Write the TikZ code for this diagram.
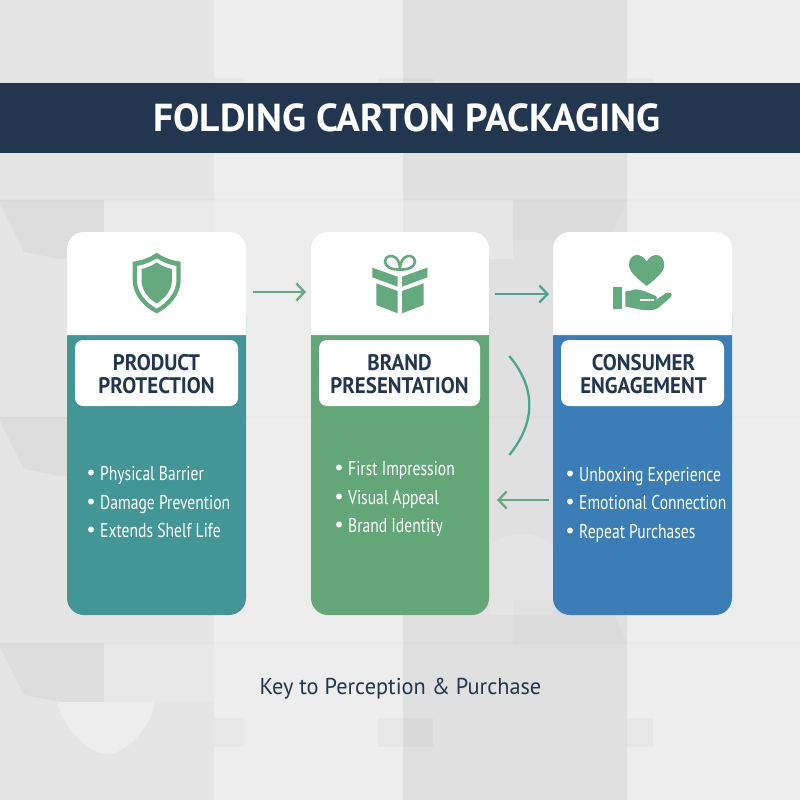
\documentclass[tikz,border=0pt]{standalone}
\usepackage{fontspec}
\setmainfont{PT Sans}
\usetikzlibrary{arrows.meta}
\newfontfamily\titlefont[FakeStretch=1.01]{PT Sans}
\newfontfamily\labelfont[FakeStretch=0.93]{PT Sans}
\newfontfamily\itemfont[FakeStretch=0.78]{PT Sans}
\newfontfamily\footfont[FakeStretch=0.97]{PT Sans}
\definecolor{navy}{HTML}{22374F}
\definecolor{teal1}{HTML}{439696}
\definecolor{green1}{HTML}{63A678}
\definecolor{blue1}{HTML}{3A7DB7}
\definecolor{icon}{HTML}{65A97E}
\definecolor{flowa}{HTML}{64A982}
\definecolor{flowb}{HTML}{4EA58F}
\tikzset{
  band/.style={fill=#1,draw=none},
  shade1/.style={fill=black,fill opacity=#1,draw=none},
  labelbox/.style={fill=white,draw=none,rounded corners=8pt,minimum height=66pt,inner sep=0pt,
    align=center,text=navy,font=\labelfont\fontsize{22.5}{23}\selectfont\bfseries},
  itemtext/.style={anchor=base west,inner sep=0pt,text=white,font=\itemfont\fontsize{20}{22}\selectfont},
  dotmark/.style={circle,fill=white,draw=none,minimum size=6pt,inner sep=0pt},
  flow/.style={line width=2.3pt,draw=#1,-{Straight Barb[length=8pt,width=17pt,line width=2.3pt]}},
}
\begin{document}
\begin{tikzpicture}[x=1pt,y=-1pt]
\useasboundingbox (0,0) rectangle (800,800);
% background
\fill[band=black!7] (0,0) rectangle (800,800);
\fill[band=black!10] (0,0) rectangle (214,800);
\fill[band=black!12] (403,0) rectangle (627,800);
\foreach \y in {200,417,643}{
  \fill[shade1=0.03] (0,\y) -- (104,\y) -- (104,\y+59) -- (60,\y+59) -- (24,\y+52) -- (0,\y+4) -- cycle;
  \fill[shade1=0.012] (0,\y-1.5) rectangle (800,\y+1.5);
}
\fill[white,fill opacity=0.2] (104,200) rectangle (214,259);
\fill[white,fill opacity=0.2] (403,200) rectangle (513,259);
\fill[white,fill opacity=0.12] (104,643) rectangle (214,702);
\fill[shade1=0.015] (513,600) -- (513,643) -- (627,643) -- (615,617) -- (603,600) -- cycle;
\fill[shade1=0.015] (513,200) -- (513,240) -- (610,240) -- (627,200) -- cycle;
\fill[black!7] (57,702) -- (155,702) .. controls (150,730) and (125,754) .. (107,754) .. controls (89,754) and (64,730) .. (57,702) -- cycle;
\fill[white,fill opacity=0.15] (490,545) .. controls (510,530) and (535,530) .. (553,545) -- (553,615) -- (490,615) -- cycle;
\foreach \a/\b in {214/244,378/433,627/653}{
  \fill[shade1=0.025] (\a,718) rectangle (\b,747);
  \fill[shade1=0.025] (\a,78) rectangle (\b,84);
}
% title bar
\node[fill=navy,minimum width=800pt,minimum height=70pt,inner sep=0pt,text=white,
  font=\titlefont\fontsize{39}{42}\selectfont\bfseries] (title) at (400,118) {\hspace*{14pt}FOLDING CARTON PACKAGING};
% cards
\foreach \n/\l/\r/\c in {1/67/246/teal1,2/311/489/green1,3/553/732/blue1}{
  \fill[\c,rounded corners=17pt] (\l,300) -- (\l,615) -- (\r,615) -- (\r,300) -- cycle;
  \fill[white,rounded corners=17pt] (\l,335) -- (\l,232) -- (\r,232) -- (\r,335);
  \fill[white] (\l,315) rectangle (\r,335);
}
% label boxes
\node[labelbox,minimum width=163pt] (l1) at (156.5,373) {\rule{0pt}{19pt}PRODUCT\\PROTECTION};
\node[labelbox,minimum width=161pt] (l2) at (399.5,373) {\rule{0pt}{19pt}BRAND\\PRESENTATION};
\node[labelbox,minimum width=163pt] (l3) at (642.5,373) {\rule{0pt}{19pt}\hspace*{2pt}CONSUMER\\\hspace*{2pt}ENGAGEMENT};
% bullets
\foreach \n/\x/\t/\y in {a/100/Physical Barrier/480,b/100/Damage Prevention/509,c/100/Extends Shelf Life/537,
   d/348/First Impression/475,e/348/Visual Appeal/504,f/348/Brand Identity/532,
   g/579/Unboxing Experience/481,h/579/Emotional Connection/509,i/579/Repeat Purchases/538}{
  \node[itemtext] (t\n) at (\x,\y) {\t};
  \node[dotmark] (d\n) at (\x-9,\y-7.5) {};
}
% shield
\fill[icon] (156.7,252.7) .. controls (150,257.5) and (142,260.5) .. (132.7,261.7) -- (132.7,280)
  .. controls (132.7,295) and (144,307) .. (156.7,313.5) .. controls (169.4,307) and (180.7,295) .. (180.7,280) -- (180.7,261.7)
  .. controls (171.4,260.5) and (163.4,257.5) .. (156.7,252.7) -- cycle;
\fill[white] (156.7,258.5) .. controls (151,262) and (144,265) .. (137,266) -- (137,280)
  .. controls (137,292) and (146,302.5) .. (156.7,308.5) .. controls (167.4,302.5) and (176.4,292) .. (176.4,280) -- (176.4,266)
  .. controls (169.4,265) and (162.4,262) .. (156.7,258.5) -- cycle;
\fill[icon] (156.7,262.5) .. controls (152,265.5) and (147,268) .. (141.5,269) -- (141.5,280)
  .. controls (141.5,290) and (148,298) .. (156.7,303.5) .. controls (165.4,298) and (171.9,290) .. (171.9,280) -- (171.9,269)
  .. controls (166.4,268) and (161.4,265.5) .. (156.7,262.5) -- cycle;
% gift
\fill[icon] (372.3,267.7) -- (397.7,276.7) -- (397.7,286.7) -- (372.3,277.3) -- cycle;
\fill[icon] (402,276.7) -- (427.3,267.7) -- (427.3,277.3) -- (402,286.7) -- cycle;
\fill[icon] (376.3,283.3) -- (397.7,291) -- (397.7,313.3) -- (376.3,305) -- cycle;
\fill[icon] (402,291) -- (423.7,283.3) -- (423.7,305) -- (402,313.3) -- cycle;
\draw[icon,line width=2.6pt] (400,269.5) .. controls (392,270) and (385,267) .. (385,261.5) .. controls (385,256) and (392,254) .. (396,258) .. controls (399,261) and (400,265) .. (400,269.5)
  .. controls (408,270) and (415,267) .. (415,261.5) .. controls (415,256) and (408,254) .. (404,258) .. controls (401,261) and (400,265) .. (400,269.5);
% heart and hand
\fill[icon] (646.7,261.5) .. controls (644,256.5) and (639,254.8) .. (636,255) .. controls (631.5,255.5) and (629,260) .. (629,265) .. controls (629,272) and (638,279) .. (646.7,286)
  .. controls (655.4,279) and (664.3,272) .. (664.3,265) .. controls (664.3,260) and (661.5,255.5) .. (657,255) .. controls (654,254.8) and (649.4,256.5) .. (646.7,261.5) -- cycle;
\fill[icon] (613.3,287.3) rectangle (622,309.3);
\fill[icon] (625.3,291.5) -- (631,290.5) .. controls (638,287.5) and (643,291) .. (654,295) .. controls (658,296.5) and (657.5,299) .. (655,300) -- (640,300) -- (655,300.5) -- (666,293.2) .. controls (670,291) and (673,294) .. (671,297)
  -- (658,308) .. controls (654,311) and (645,310.5) .. (640,309.5) -- (625.3,306.5) -- cycle;
\draw[white,line width=1.3pt] (640,300) -- (654,300);
% connectors
\coordinate (a1) at (253,292); \coordinate (a2) at (306,292);
\coordinate (b1) at (495,294); \coordinate (b2) at (549,294);
\coordinate (c1) at (509.3,356); \coordinate (c2) at (509.3,455);
\coordinate (e1) at (549,500); \coordinate (e2) at (497,500);
\draw[flow=flowa] (a1) -- (a2);
\draw[flow=flowb] (b1) -- (b2);
\draw[flowb,line width=2.3pt] (c1) .. controls (536,388) and (536,422) .. (c2);
\draw[flow=flowa] (e1) -- (e2);
% footer
\node[inner sep=0pt,text=navy,font=\footfont\fontsize{23}{25}\selectfont] (foot) at (400.5,689) {Key to Perception \& Purchase};
\end{tikzpicture}
\end{document}
